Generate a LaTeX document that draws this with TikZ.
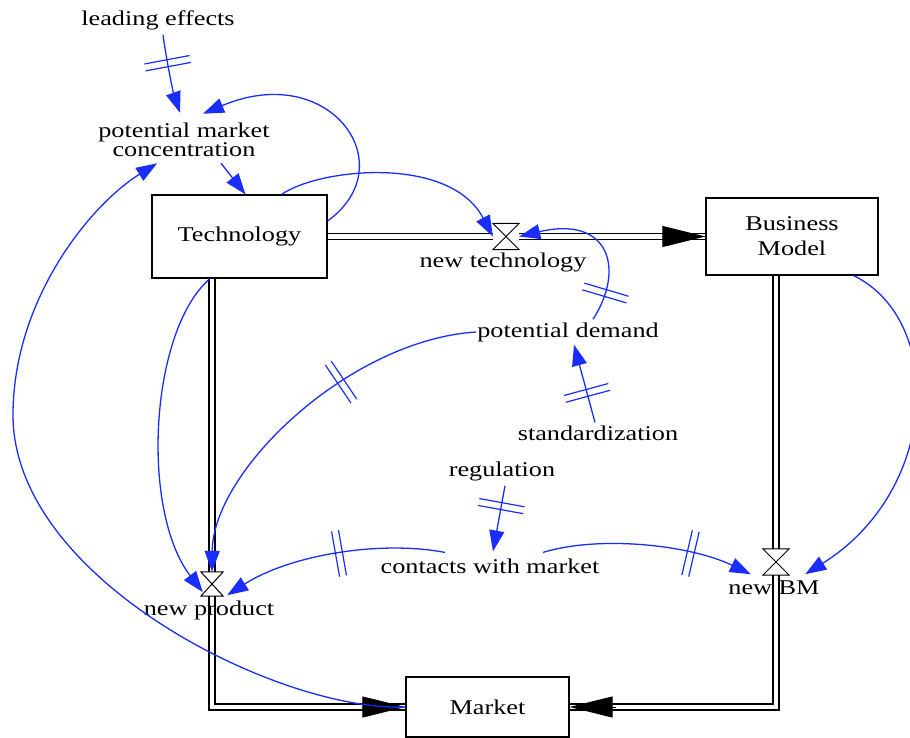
\documentclass[tikz,border=0pt]{standalone}
\usepackage{fontspec}
\setmainfont{Liberation Serif}[FakeStretch=1.25]
\usetikzlibrary{arrows.meta,calc,decorations.markings}
\definecolor{linkblue}{RGB}{25,45,255}
\newcommand{\drawvalve}[1]{%
  \filldraw[fill=white,draw=black,line width=1pt,line join=miter]
    (#1.north west) -- (#1.north east) -- (#1.south west) -- (#1.south east) -- cycle;}

\begin{document}
\begin{tikzpicture}[x=1pt,y=-1pt,
  font=\fontsize{21}{24}\selectfont,
  stock/.style={draw,line width=1.2pt,inner sep=0pt},
  lbl/.style={inner sep=1pt},
  valve/.style={minimum width=26pt,minimum height=26pt,inner sep=0pt},
  pipe/.style={draw=black,double=white,double distance=4.5pt,line width=1.5pt,line join=miter},
  pipetip/.style={-{Triangle[length=43pt,width=21pt]},line width=1pt},
  link/.style={linkblue,line width=1.3pt,-{Triangle[length=21pt,width=15pt]}},
  delaymark/.style={postaction={decorate,decoration={markings,mark=at position #1 with
    {\draw[linkblue,line width=1.2pt,-] (-3.5pt,-23pt)--(-3.5pt,23pt) (3.5pt,-23pt)--(3.5pt,23pt);}}}}
]
\useasboundingbox (0,0) rectangle (910,738);

% stocks
\node[stock,minimum width=175pt,minimum height=83pt] (tech) at (239.5,236.5) {Technology};
\node[stock,minimum width=172pt,minimum height=77pt,align=center,
  font=\fontsize{21}{25}\selectfont] (bm) at (792,236.5) {Business\\Model};
\node[stock,minimum width=163pt,minimum height=60pt] (market) at (487.5,707) {Market};

% valves
\node[valve] (newtech) at (506,236.5) {};
\node[valve,minimum width=22pt,minimum height=24pt] (newprod) at (212,584) {};
\node[valve] (newbm) at (776,562) {};

% pipes
\draw[pipe] (tech.east) -- (newtech) -- (bm.west);
\draw[pipetip] ($(bm.west)+(-43,0)$) -- (bm.west);
\draw[pipe] (tech.south -| newprod) -- (newprod) -- (newprod |- market.west) -- (market.west);
\draw[pipetip] ($(market.west)+(-43,0)$) -- (market.west);
\draw[pipe] (bm.south -| newbm) -- (newbm) -- (newbm |- market.east) -- (market.east);
\draw[pipetip] ($(market.east)+(46,0)$) -- (market.east);
\drawvalve{newtech}
\drawvalve{newprod}
\drawvalve{newbm}

% variables
\node[lbl] (lead) at (158,20) {leading effects};
\node[lbl,align=center,font=\fontsize{21}{12}\selectfont] (pmc) at (184,140) {potential market\\concentration};
\node[lbl] (newtechlab) at (503,262) {new technology};
\node[lbl] (newprodlab) at (209,610) {new product};
\node[lbl] (newbmlab) at (774,588) {new BM};
\node[lbl] (demand) at (568,332) {potential demand};
\node[lbl] (stand) at (598,433) {standardization};
\node[lbl] (reg) at (502,471) {regulation};
\node[lbl] (contacts) at (490,566) {contacts with market};
\coordinate (leftbend) at (13,415);

% links
\draw[link,delaymark=0.36] ($(lead.south)+(5,4)$) .. controls (168,70) and (174,95) .. ($(pmc.north)+(-4,-9)$);
\draw[link] (tech.10) .. controls (405,165) and (330,60) .. ($(pmc.north)+(19,-8)$);
\draw[link] ($(pmc.south)+(37,5)$) -- ($(tech.north)+(6,0)$);
\draw[link] (tech.45) .. controls (320,168) and (450,155) .. (newtech.west);
\draw[link,delaymark=0.18] ($(demand.north)+(25,-2)$) .. controls (625,270) and (610,215) .. (newtech.east);
\draw[link,delaymark=0.38] ($(stand.north)+(-3,-2)$) -- ($(demand.south)+(6,2)$);
\draw[link,delaymark=0.38] (demand.west) .. controls (350,340) and (213,470) .. (newprod.north);
\draw[link] (tech.-125) .. controls (150,330) and (140,510) .. ($(newprod.south west)+(2,-4)$);
\draw[link,delaymark=0.47] ($(contacts.north)+(-45,-5)$) .. controls (380,540) and (290,555) .. ($(newprod.south east)+(4,-1)$);
\draw[link,delaymark=0.7] ($(contacts.north)+(53,-5)$) .. controls (600,535) and (690,545) .. ($(newbm.south west)+(-12,-1)$);
\draw[link,delaymark=0.31] ($(reg.south)+(3,4)$) -- ($(contacts.north)+(3,-6)$);
\draw[link] ($(bm.south east)+(-25,0)$) .. controls (945,320) and (940,490) .. ($(newbm.south east)+(16,-1)$);
\draw[link] (market.west) .. controls (280,712) and (13,580) .. (leftbend)
  .. controls (13,300) and (90,205) .. ($(pmc.south west)+(60,5)$);
\end{tikzpicture}
\end{document}
